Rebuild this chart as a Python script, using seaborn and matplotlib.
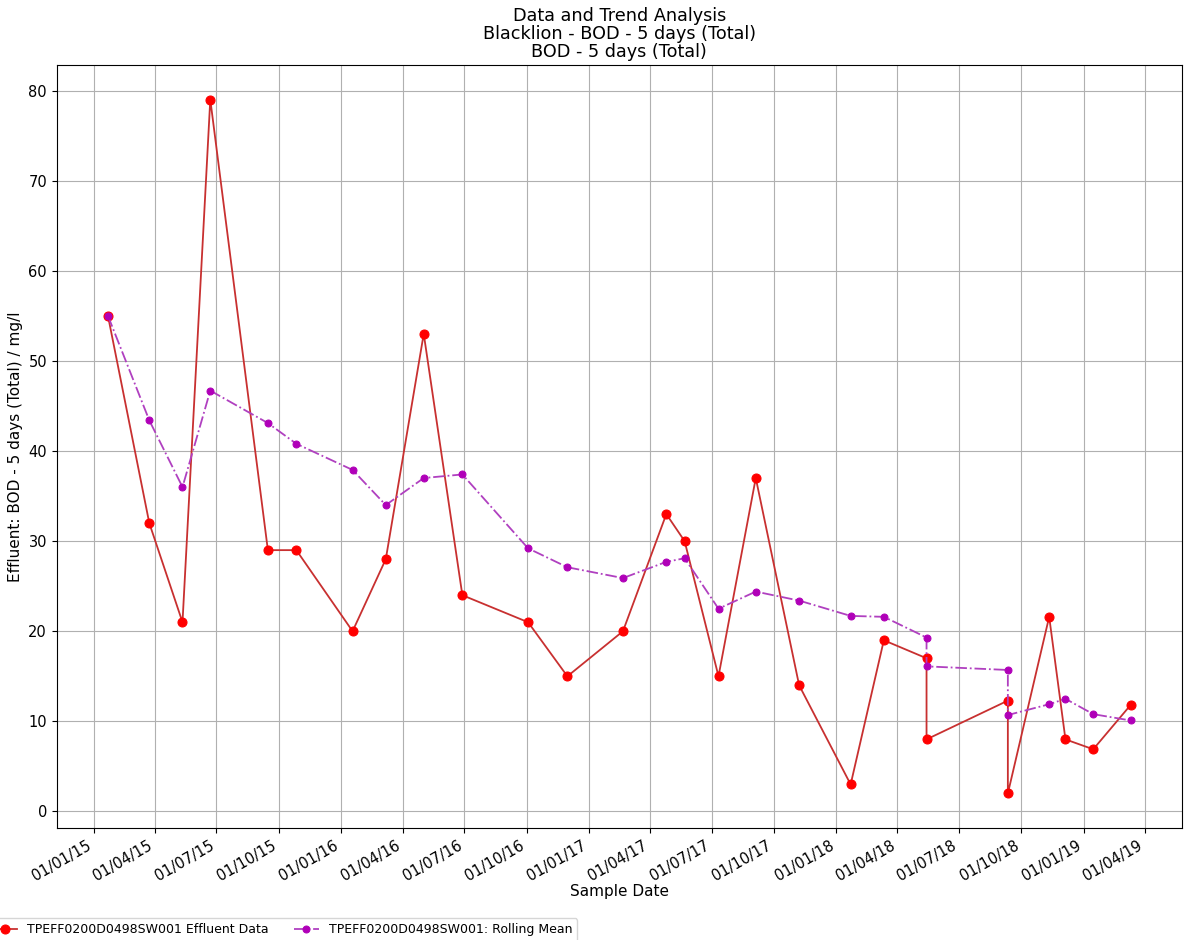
import pandas as pd
import matplotlib
matplotlib.use("Agg")
import matplotlib.pyplot as plt
import matplotlib.dates as mdates
import seaborn as sns

# sample dates (two samples share a date twice)
sample_dates = [
    "2015-01-22", "2015-03-24", "2015-05-12", "2015-06-22", "2015-09-15",
    "2015-10-27", "2016-01-18", "2016-03-07", "2016-05-02", "2016-06-28",
    "2016-10-03", "2016-11-30", "2017-02-20", "2017-04-25", "2017-05-22",
    "2017-07-11", "2017-09-04", "2017-11-07", "2018-01-22", "2018-03-12",
    "2018-05-14", "2018-05-14", "2018-09-11", "2018-09-11", "2018-11-11",
    "2018-12-05", "2019-01-15", "2019-03-11",
]
effluent = [
    55, 32, 21, 79, 29, 29, 20, 28, 53, 24,
    21, 15, 20, 33, 30, 15, 37, 14, 3, 19,
    17, 8, 12.3, 2, 21.6, 8, 6.9, 11.8,
]
rolling_mean = [
    55, 43.4, 36.0, 46.7, 43.1, 40.8, 37.9, 34.0, 37.0, 37.4,
    29.2, 27.1, 25.9, 27.7, 28.1, 22.5, 24.4, 23.4, 21.7, 21.6,
    19.3, 16.1, 15.7, 10.7, 11.9, 12.5, 10.8, 10.1,
]

site = "TPEFF0200D0498SW001"
title = "Data and Trend Analysis\nBlacklion - BOD - 5 days (Total)\nBOD - 5 days (Total)"

df = pd.DataFrame({
    "date": pd.to_datetime(sample_dates),
    "effluent": effluent,
    "rolling": rolling_mean,
})

fig = plt.figure(figsize=(11.84, 9.4), dpi=100)
ax = fig.add_axes([0.048, 0.119, 0.950, 0.812])

sns.lineplot(data=df, x="date", y="effluent", ax=ax, estimator=None, sort=False,
             color="#c83030", linewidth=1.3, marker="o", markersize=6.5,
             markerfacecolor="red", markeredgecolor="red",
             label=site + " Effluent Data")
sns.lineplot(data=df, x="date", y="rolling", ax=ax, estimator=None, sort=False,
             color="#b040c0", linewidth=1.3, linestyle="-.", marker="o", markersize=5,
             markerfacecolor="#b000b8", markeredgecolor="#b000b8",
             label=site + ": Rolling Mean")

ax.xaxis.set_major_locator(mdates.MonthLocator(bymonth=[1, 4, 7, 10]))
ax.xaxis.set_major_formatter(mdates.DateFormatter("%d/%m/%y"))
plt.setp(ax.get_xticklabels(), rotation=30, ha="right")
ax.tick_params(labelsize=10.5)
ax.grid(True, color="#b0b0b0", linewidth=0.8)

ax.set_title(title, fontsize=12.7, linespacing=1.0)
ax.set_xlabel("Sample Date", fontsize=11, labelpad=0)
ax.set_ylabel("Effluent: BOD - 5 days (Total) / mg/l", fontsize=11)

handles, labels = ax.get_legend_handles_labels()
if ax.get_legend() is not None:
    ax.get_legend().remove()
fig.legend(handles, labels, loc="upper left", bbox_to_anchor=(-0.016, 0.030),
           ncol=2, fontsize=9)

fig.savefig("out.png", dpi=100)
